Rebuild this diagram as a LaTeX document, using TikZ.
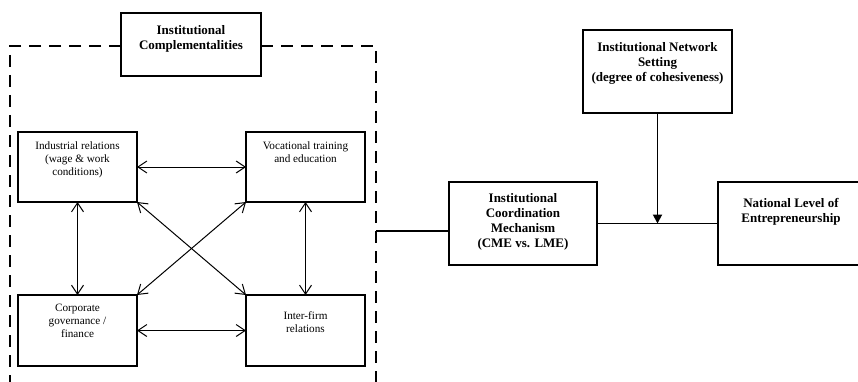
\documentclass[tikz,border=0pt]{standalone}
\usepackage{fontspec}
\setmainfont{Liberation Serif}
\usetikzlibrary{arrows.meta}
\tikzset{
  thinbox/.style={draw, line width=1.1pt, inner sep=0pt, outer sep=0pt},
  boldbox/.style={draw, line width=1.9pt, inner sep=0pt, outer sep=0pt},
  smalltxt/.style={inner sep=0pt, align=center, font=\fontsize{11.2}{13}\selectfont},
  boldtxt/.style={inner sep=0pt, align=center, font=\fontsize{13}{15}\selectfont\bfseries},
  dbl/.style={line width=1pt, {Straight Barb[length=9pt,width=12pt]}-{Straight Barb[length=9pt,width=12pt]}},
  dashline/.style={line width=2.4pt, dash pattern=on 12pt off 8pt},
  conn/.style={line width=1.9pt},
  downarrow/.style={line width=1.9pt, -{Triangle[length=9pt,width=9pt]}}
}
\begin{document}
\begin{tikzpicture}[x=1pt,y=-1pt]
\clip (0,0) rectangle (858,382);
\useasboundingbox (0,0) rectangle (858,382);
% dashed enclosure
\node[boldbox, minimum width=140pt, minimum height=63pt] (ic) at (191,44.5) {};
\node[boldtxt, anchor=north] at ([yshift=-12pt]ic.north) {Institutional\\Complementalities};
\coordinate (dtl) at (10,46);
\coordinate (dbl) at (10,384);
\coordinate (dtr) at (376,46);
\coordinate (dbr) at (376,384);
\draw[dashline] (ic.west |- dtl) -- (dtl) -- (dbl);
\draw[dashline] (ic.east |- dtr) -- (dtr) -- (dbr);
% four inner boxes
\node[thinbox, minimum width=119pt, minimum height=70pt] (ir) at (77.5,167) {};
\node[thinbox, minimum width=119pt, minimum height=70pt] (vt) at (305.5,167) {};
\node[thinbox, minimum width=119pt, minimum height=71pt] (cg) at (77.5,330.5) {};
\node[thinbox, minimum width=119pt, minimum height=71pt] (if) at (305.5,330.5) {};
\node[smalltxt, anchor=north] at ([yshift=-10pt]ir.north) {Industrial relations\\(wage \& work\\conditions)};
\node[smalltxt, anchor=north] at ([yshift=-10pt]vt.north) {Vocational training\\and education};
\node[smalltxt, anchor=north] at ([yshift=-9pt]cg.north) {Corporate\\governance /\\finance};
\node[smalltxt, anchor=north] at ([yshift=-16pt]if.north) {Inter-firm\\relations};
\draw[dbl] (ir) -- (vt);
\draw[dbl] (cg) -- (if);
\draw[dbl] (ir) -- (cg);
\draw[dbl] (vt) -- (if);
\draw[dbl] (ir.south east) -- (if.north west);
\draw[dbl] (vt.south west) -- (cg.north east);
% right part
\node[boldbox, minimum width=148pt, minimum height=83pt] (icm) at (523,223.5) {};
\node[boldtxt, anchor=north] at ([yshift=-11pt]icm.north) {Institutional\\Coordination\\Mechanism\\(CME vs. LME)};
\node[boldbox, minimum width=149pt, minimum height=83pt] (ins) at (657.5,71.5) {};
\node[boldtxt, anchor=north] at ([yshift=-12pt]ins.north) {Institutional Network\\Setting\\(degree of cohesiveness)};
\node[boldbox, minimum width=146pt, minimum height=83pt] (nle) at (791,223.5) {};
\node[boldtxt, anchor=north] at ([yshift=-16pt]nle.north -| 791,0) {National Level of\\Entrepreneurship};
\coordinate (dr) at (376,231);
\draw[conn] (dr) -- (dr -| icm.west);
\draw[conn] (icm.east) -- (nle.west);
\draw[downarrow] (ins.south) -- (ins.south |- icm.east);
\end{tikzpicture}
\end{document}
